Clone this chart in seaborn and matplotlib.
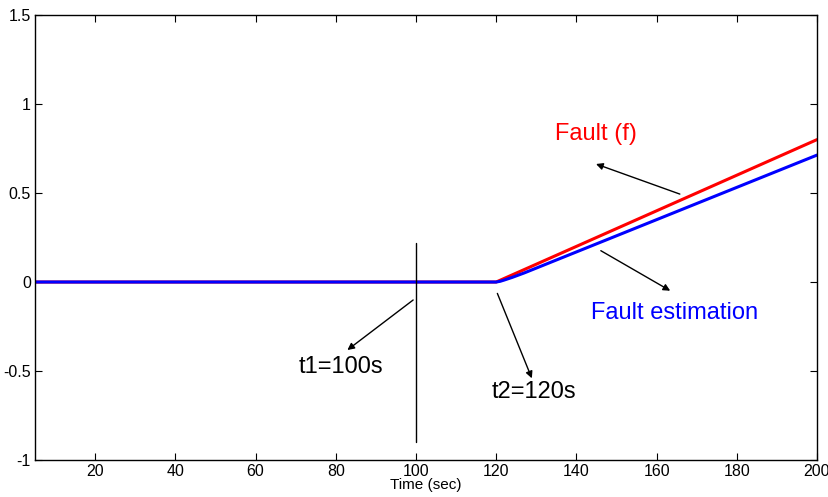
import matplotlib
matplotlib.use("Agg")
import matplotlib.pyplot as plt
import seaborn as sns

# fault signal and its estimate
time_fault = [5, 120, 200]
fault = [0.0, 0.0, 0.8]
time_est = [5, 120, 121, 122, 124, 127, 200]
fault_est = [0.0, 0.0, 0.004, 0.011, 0.026, 0.051, 0.713]

x_ticks = [20, 40, 60, 80, 100, 120, 140, 160, 180, 200]
y_ticks = [-1, -0.5, 0, 0.5, 1, 1.5]
y_tick_labels = ["-1", "-0.5", "0", "0.5", "1", "1.5"]

sns.set_theme(style="ticks")
plt.rcParams['font.family'] = ['Liberation Sans', 'DejaVu Sans']
plt.rcParams['text.color'] = 'black'
plt.rcParams['axes.labelcolor'] = 'black'

fig = plt.figure(figsize=(8.29, 4.97), dpi=100)
ax = fig.add_axes([0.0422, 0.0744, 0.9433, 0.8954])

sns.lineplot(x=time_fault, y=fault, color="#ff0000", linewidth=2.2, estimator=None, ax=ax)
sns.lineplot(x=time_est, y=fault_est, color="#0000ff", linewidth=2.2, estimator=None, ax=ax)

# switching instant marker
ax.plot([100, 100], [-0.9, 0.22], color="black", linewidth=1)

arrow = dict(arrowstyle="-|>", color="black", lw=1, mutation_scale=10, shrinkA=0, shrinkB=0)
ax.annotate("", xy=(82.9, -0.382), xytext=(99.3, -0.101), arrowprops=arrow)
ax.text(81.3, -0.478, "t1=100s", fontsize=17, ha="center", va="center")
ax.annotate("", xy=(128.9, -0.541), xytext=(120.3, -0.064), arrowprops=arrow)
ax.text(129.3, -0.616, "t2=120s", fontsize=17, ha="center", va="center")
ax.annotate("", xy=(144.9, 0.663), xytext=(165.8, 0.494), arrowprops=arrow)
ax.text(144.9, 0.831, "Fault (f)", fontsize=17, color="#ff0000", ha="center", va="center")
ax.annotate("", xy=(163.4, -0.049), xytext=(146.1, 0.176), arrowprops=arrow)
ax.text(164.6, -0.176, "Fault estimation", fontsize=17, color="#0000ff", ha="center", va="center")

ax.set_xlim(5, 200)
ax.set_ylim(-1, 1.5)
ax.set_xticks(x_ticks)
ax.set_xticklabels([str(t) for t in x_ticks])
ax.set_yticks(y_ticks)
ax.set_yticklabels(y_tick_labels)
ax.tick_params(direction="in", length=5, width=0.8, labelsize=11.5, colors="black",
               top=True, right=True, pad=3)
for s in ax.spines.values():
    s.set_visible(True)
    s.set_color("black")
    s.set_linewidth(1)
ax.set_xlabel("Time (sec)", fontsize=11, labelpad=-1)
ax.set_ylabel("")

fig.savefig("out.png", dpi=100)
plt.close()
